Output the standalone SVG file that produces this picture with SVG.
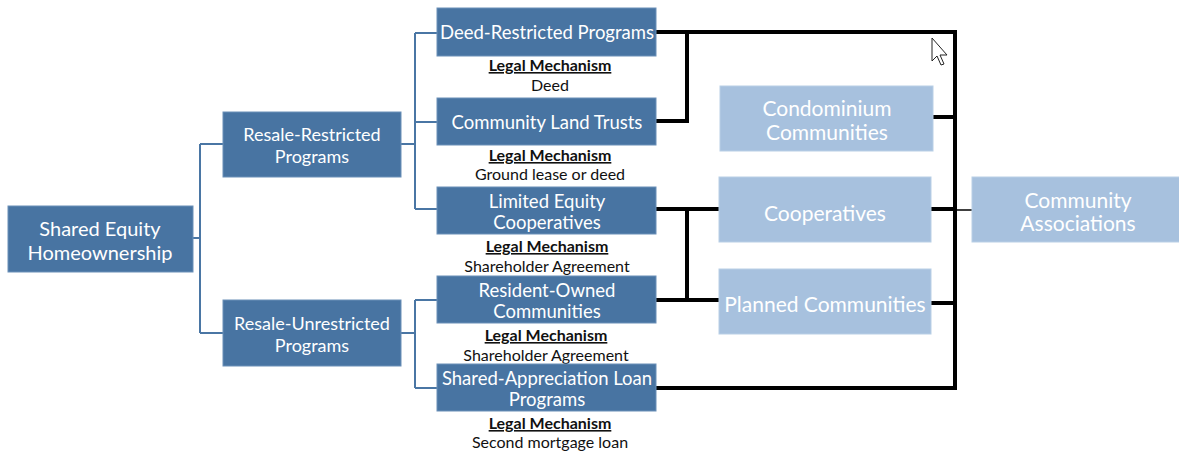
<svg xmlns="http://www.w3.org/2000/svg" width="1179" height="453" viewBox="0 0 1179 453">
<style>
.dk{fill:#4874a2;stroke:#6b90b8;stroke-width:1}
.lt{fill:#a7c1de;stroke:#b9cfe6;stroke-width:1}
.t{font-family:Lato,"Open Sans",sans-serif;fill:#fff;text-anchor:middle;dominant-baseline:central}
.lm{font-family:Lato,"Open Sans",sans-serif;fill:#111;text-anchor:middle;font-size:16px}
.lmh{font-weight:bold;text-decoration:underline}
.bl{stroke:#4a76a4;stroke-width:2;fill:none}
.bk{stroke:#000;stroke-width:4;fill:none}
</style>
<rect width="1179" height="453" fill="#fff"/>
<g id="connectors">
<path class="bl" d="M193 238H200M200 144V333M200 144H223M200 333H223"/>
<path class="bl" d="M401 144H415M415 33V209M415 33H437M415 122H437M415 209H437"/>
<path class="bl" d="M401 333H415M415 300V388M415 300H437M415 388H437"/>
<path class="bk" d="M656 32H955V388H656M687 32V121H656M933 117H955"/>
<path class="bk" d="M656 209H719M656 300H719M687 209V300M931 209H955M931 303H955"/>
<path stroke="#000" stroke-width="1.5" d="M955 210H972"/>
</g>
<g id="shared-equity"><rect class="dk" x="8" y="206" width="185" height="66"/><text class="t" font-size="20" x="100" y="228">Shared Equity</text><text class="t" font-size="20" x="100" y="252">Homeownership</text></g>
<g id="resale-restricted"><rect class="dk" x="223" y="112" width="178" height="65"/><text class="t" font-size="18" x="312" y="134">Resale-Restricted</text><text class="t" font-size="18" x="312" y="156">Programs</text></g>
<g id="resale-unrestricted"><rect class="dk" x="223" y="300" width="178" height="66"/><text class="t" font-size="18" x="312" y="323">Resale-Unrestricted</text><text class="t" font-size="18" x="312" y="345">Programs</text></g>
<g id="deed-restricted"><rect class="dk" x="437" y="8" width="219" height="48"/><text class="t" font-size="18.5" x="547" y="32">Deed-Restricted Programs</text>
<text class="lm" x="550" y="71"><tspan class="lmh">Legal Mechanism</tspan><tspan x="550" dy="20">Deed</tspan></text></g>
<g id="community-land-trusts"><rect class="dk" x="437" y="98" width="219" height="47"/><text class="t" font-size="18.5" x="547" y="122">Community Land Trusts</text>
<text class="lm" x="550" y="161"><tspan class="lmh">Legal Mechanism</tspan><tspan x="550" dy="19">Ground lease or deed</tspan></text></g>
<g id="limited-equity"><rect class="dk" x="437" y="187" width="219" height="47"/><text class="t" font-size="18.5" x="547" y="201">Limited Equity</text><text class="t" font-size="18.5" x="547" y="222">Cooperatives</text>
<text class="lm" x="547" y="252"><tspan class="lmh">Legal Mechanism</tspan><tspan x="547" dy="20">Shareholder Agreement</tspan></text></g>
<g id="resident-owned"><rect class="dk" x="437" y="276" width="219" height="47"/><text class="t" font-size="18.5" x="547" y="290">Resident-Owned</text><text class="t" font-size="18.5" x="547" y="311">Communities</text>
<text class="lm" x="546" y="341"><tspan class="lmh">Legal Mechanism</tspan><tspan x="546" dy="20">Shareholder Agreement</tspan></text></g>
<g id="shared-appreciation"><rect class="dk" x="437" y="364" width="219" height="47"/><text class="t" font-size="18.5" x="547" y="378">Shared-Appreciation Loan</text><text class="t" font-size="18.5" x="547" y="399">Programs</text>
<text class="lm" x="550" y="429"><tspan class="lmh">Legal Mechanism</tspan><tspan x="550" dy="19">Second mortgage loan</tspan></text></g>
<g id="condominium"><rect class="lt" x="720" y="86" width="213" height="65"/><text class="t" font-size="21" x="827" y="107">Condominium</text><text class="t" font-size="21" x="827" y="131">Communities</text></g>
<g id="cooperatives"><rect class="lt" x="719" y="177" width="212" height="65"/><text class="t" font-size="21" x="825" y="212">Cooperatives</text></g>
<g id="planned"><rect class="lt" x="719" y="269" width="212" height="65"/><text class="t" font-size="21" x="825" y="303">Planned Communities</text></g>
<g id="community-associations"><rect class="lt" x="972" y="177" width="212" height="65"/><text class="t" font-size="21" x="1078" y="199">Community</text><text class="t" font-size="21" x="1078" y="222">Associations</text></g>
<path id="cursor" d="M932 38V61L937 56L941 65L944 64L940 55L947 55Z" fill="#fff" stroke="#222" stroke-width="1"/>
</svg>
